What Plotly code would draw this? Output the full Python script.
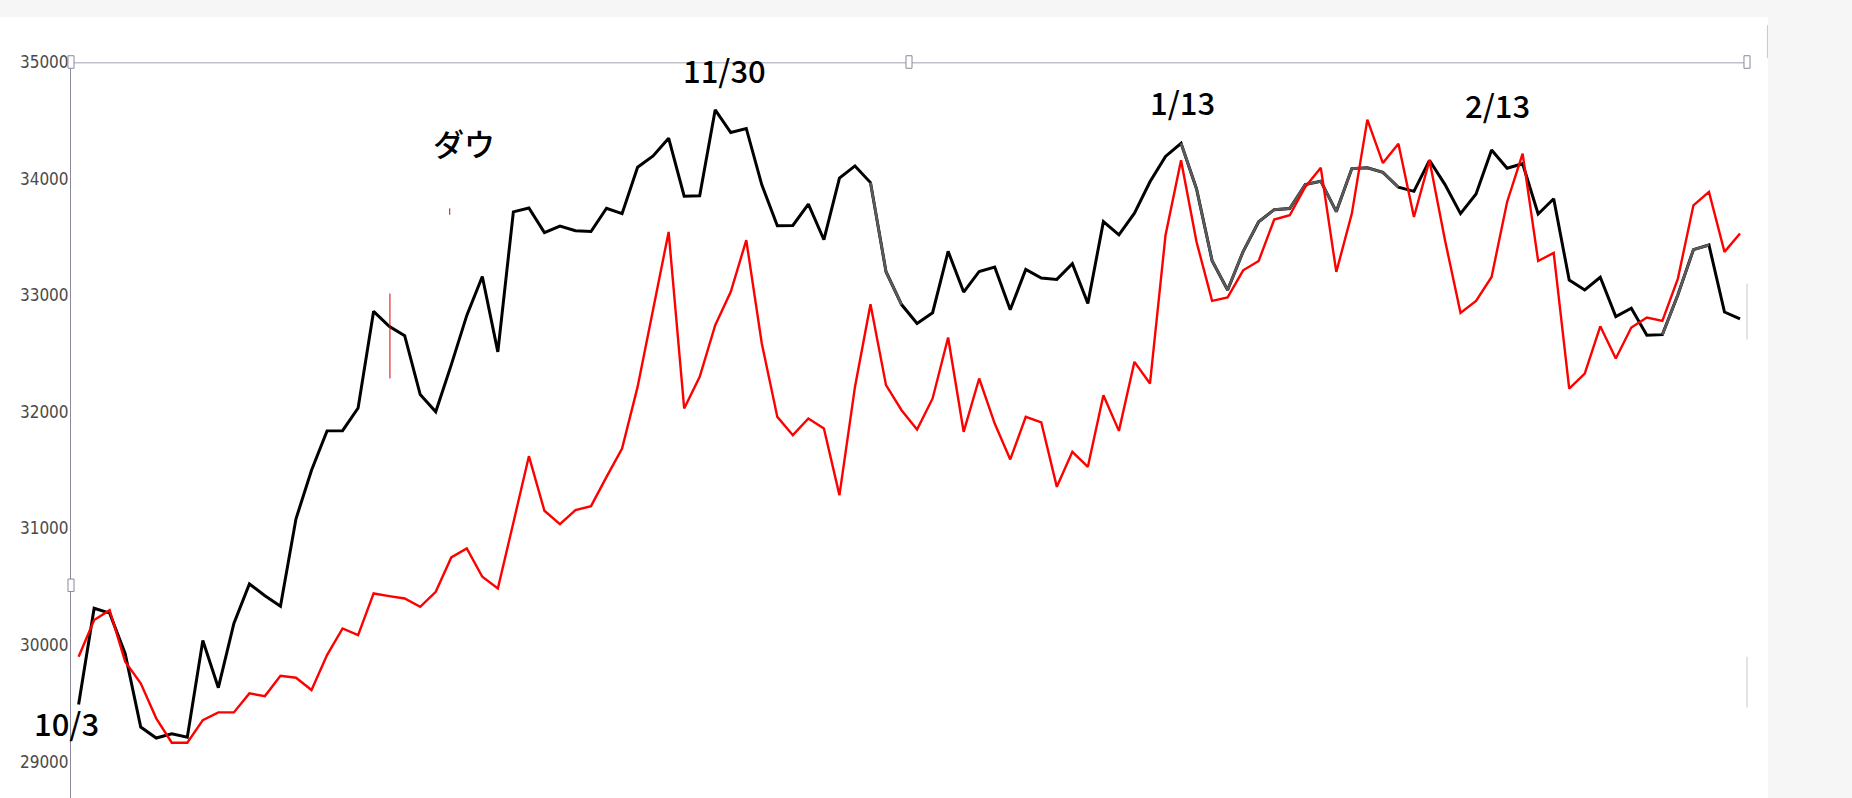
import plotly.graph_objects as go

# ---- data (daily closes, 10/3 .. 3/8) ----
dow = [29491, 30316, 30274, 29927, 29297, 29203, 29239, 29211, 30039, 29635,
       30186, 30524, 30424, 30334, 31083, 31500, 31837, 31839, 32033, 32862, 32733,
       32653, 32148, 32001, 32403, 32827, 33161, 32514, 33715, 33748, 33537,
       33593, 33554, 33546, 33746, 33700, 34098, 34194, 34347, 33849, 33853, 34590,
       34395, 34430, 33947, 33596, 33598, 33781, 33476, 34005, 34109, 33966,
       33202, 32920, 32758, 32850, 33376, 33027, 33204, 33242, 32876, 33221, 33147,
       33136, 33270, 32930, 33631, 33518, 33704, 33973, 34190, 34303, 33911,
       33297, 33045, 33375, 33630, 33734, 33744, 33949, 33978, 33717, 34086,
       34093, 34054, 33926, 33891, 34157, 33949, 33700, 33869, 34246, 34089,
       34128, 33697, 33827, 33130, 33045, 33154, 32817, 32889, 32657,
       32662, 33004, 33391, 33431, 32856, 32798]

red_series = [29900, 30215, 30300, 29857, 29672, 29372, 29163, 29163, 29357, 29423,
              29423, 29586, 29563, 29737, 29720, 29615, 29915, 30143, 30086, 30443,
              30420, 30400, 30329, 30457, 30752, 30829, 30586, 30486, 31050, 31620,
              31152, 31038, 31157, 31192, 31443, 31686, 32214, 32872, 33543, 32029,
              32300, 32743, 33029, 33472, 32586, 31957, 31800, 31943, 31857, 31286,
              32214, 32923, 32229, 32014, 31849, 32115, 32638, 31829, 32286, 31900,
              31592, 31957, 31910, 31357, 31657, 31529, 32143, 31837, 32429, 32243,
              33514, 34157, 33457, 32952, 32981, 33214, 33294, 33649, 33686, 33929,
              34094, 33200, 33700, 34506, 34133, 34300, 33671, 34157, 33472, 32849,
              32952, 33157, 33800, 34214, 33294, 33363, 32200, 32329, 32734, 32457,
              32723, 32809, 32780, 33143, 33771, 33886, 33372, 33529]

# index ranges where the dow line is drawn in gray in the picture
gray_ranges = [(51, 53), (71, 85), (102, 105)]

y_ticks = [29000, 30000, 31000, 32000, 33000, 34000, 35000]

# text labels (paper coordinates)
labels = [("10/3", -0.0028, 0.1032), ("11/30", 0.3897, 0.9894), ("1/13", 0.6629, 0.9459),
          ("2/13", 0.8509, 0.9426), ("ダウ", 0.2346, 0.8910)]

x = list(range(len(dow)))

gray_y = [v if any(a <= i <= b for a, b in gray_ranges) else None for i, v in enumerate(dow)]

fig = go.Figure()
fig.add_trace(go.Scatter(x=x, y=dow, mode="lines", line=dict(color="#000000", width=3),
                         name="ダウ", cliponaxis=False))
fig.add_trace(go.Scatter(x=x, y=gray_y, mode="lines", line=dict(color="#5a5a5a", width=2.6),
                         connectgaps=False, showlegend=False, cliponaxis=False))
fig.add_trace(go.Scatter(x=x, y=red_series, mode="lines", line=dict(color="#ff0000", width=2.4),
                         name="red", cliponaxis=False))

xr = [-0.49, 107.45]
yr = [28689, 35000]

shapes = [
    # white page area
    dict(type="rect", xref="paper", yref="paper", x0=-0.05, x1=1.0125, y0=-0.02, y1=1.0607,
         fillcolor="white", line=dict(width=0), layer="below"),
    # top frame line
    dict(type="line", xref="paper", yref="y", x0=0, x1=1, y0=35000, y1=35000,
         line=dict(color="#c0c0cc", width=3), layer="below"),
    # small red marks
    dict(type="line", xref="x", yref="y", x0=20.05, x1=20.05, y0=32286, y1=33015,
         line=dict(color="#e00000", width=1)),
    dict(type="line", xref="x", yref="y", x0=23.9, x1=23.9, y0=33690, y1=33745,
         line=dict(color="#e00000", width=1)),
    # faint right edge fragments
    dict(type="line", xref="paper", yref="paper", x0=1.0, x1=1.0, y0=0.623, y1=0.699,
         line=dict(color="#c8c8c8", width=1)),
    dict(type="line", xref="paper", yref="paper", x0=1.0, x1=1.0, y0=0.123, y1=0.192,
         line=dict(color="#c8c8c8", width=1)),
    dict(type="line", xref="paper", yref="paper", x0=1.0122, x1=1.0122, y0=1.005, y1=1.05,
         line=dict(color="#c8c8c8", width=1)),
]
# selection handles
for hx, hy in [(0, 1.0), (0.5, 1.0), (1.0, 1.0), (0, 0.289)]:
    shapes.append(dict(type="rect", xref="paper", yref="paper",
                       x0=hx - 0.0018, x1=hx + 0.0018, y0=hy - 0.0085, y1=hy + 0.0085,
                       fillcolor="white", line=dict(color="#8a8a9a", width=1)))

annotations = [dict(text=t, x=ax, y=ay, xref="paper", yref="paper", showarrow=False,
                    xanchor="center", yanchor="middle",
                    font=dict(family="Noto Sans CJK JP", size=31, color="#000000", weight=500))
               for t, ax, ay in labels]

fig.update_layout(
    width=1852, height=798,
    margin=dict(l=71, r=105, t=62, b=0, pad=0, autoexpand=False),
    paper_bgcolor="#f6f6f6", plot_bgcolor="rgba(0,0,0,0)",
    showlegend=False,
    shapes=shapes, annotations=annotations,
    xaxis=dict(range=xr, showgrid=False, zeroline=False, showticklabels=False,
               showline=False, fixedrange=True),
    yaxis=dict(range=yr, tickvals=y_ticks, ticktext=[str(v) for v in y_ticks],
               showgrid=False, zeroline=False, showline=True, linecolor="#8a8a9a", linewidth=1,
               ticks="", ticklabelstandoff=-2, fixedrange=True,
               tickfont=dict(family="Liberation Sans Narrow, DejaVu Sans Condensed, sans-serif",
                             size=17, color="#4a4a4a")),
)

fig.write_html("out.html", config={"displayModeBar": False},
               post_script="document.body.style.margin='0px';document.body.style.background='#f6f6f6';")
